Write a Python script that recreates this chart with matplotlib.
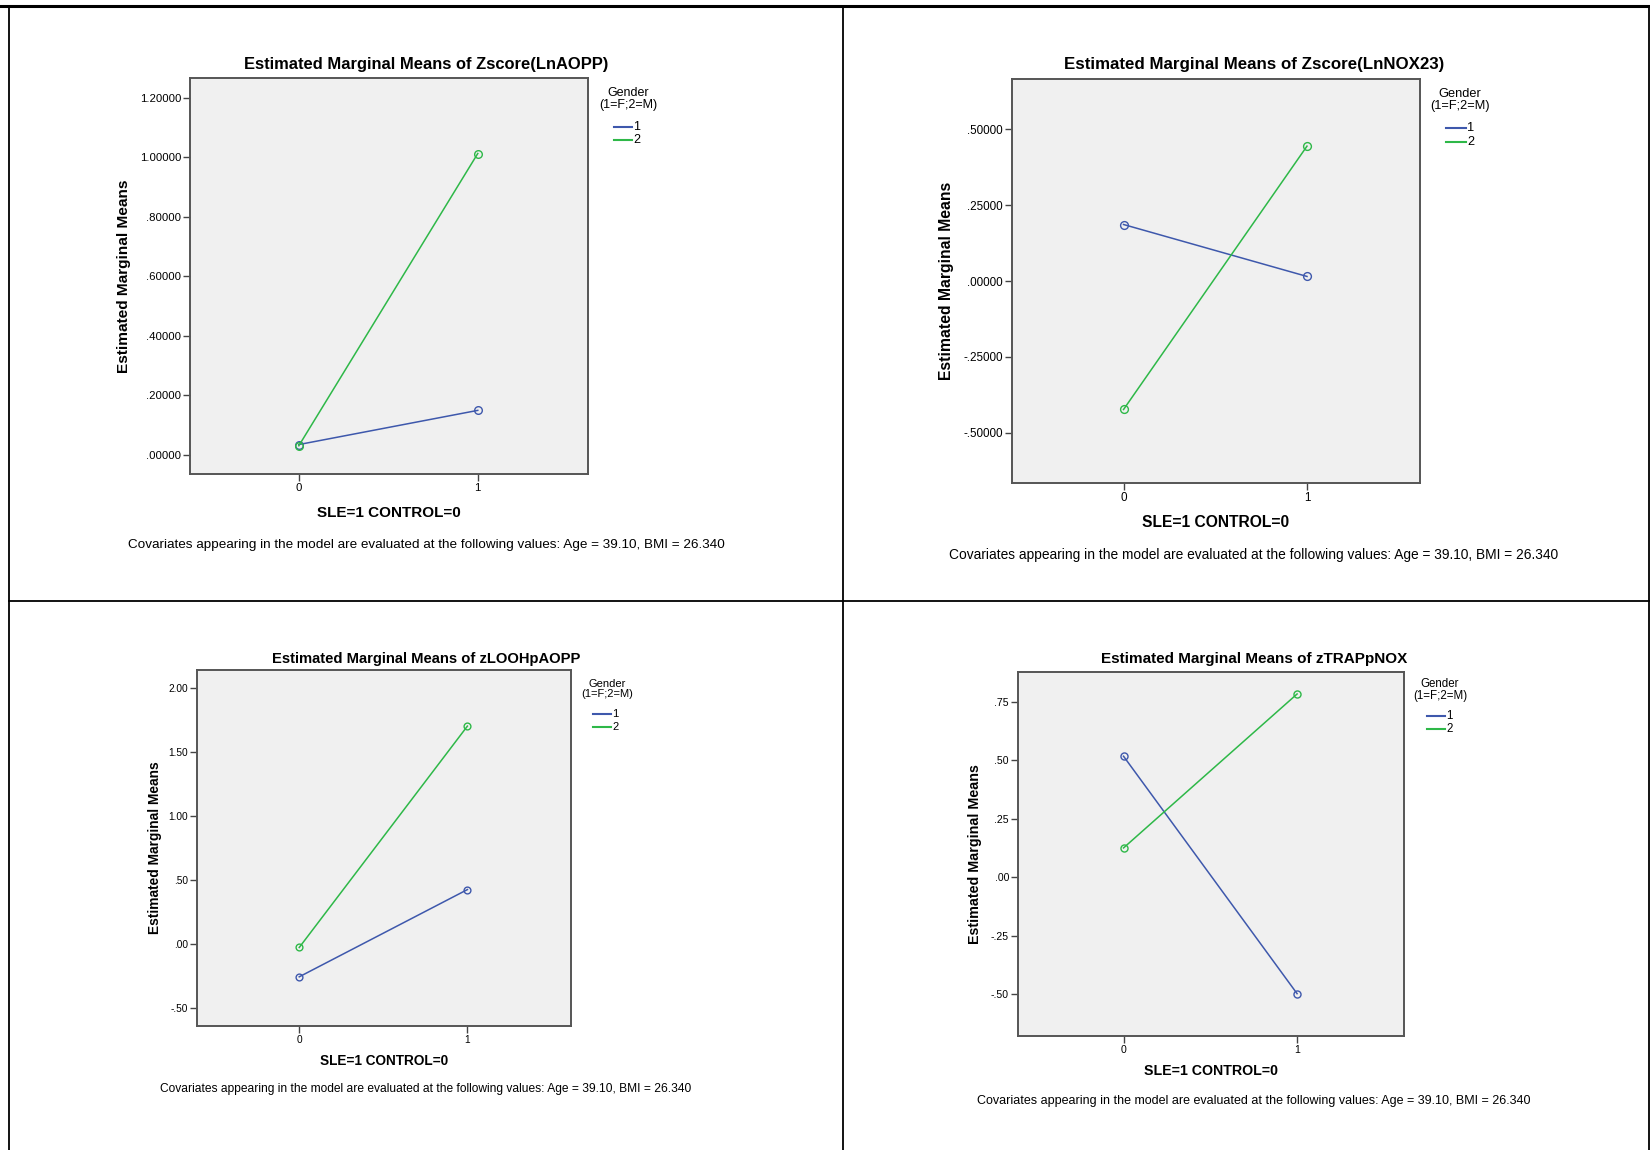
import matplotlib
matplotlib.use('Agg')
import matplotlib.pyplot as plt
from matplotlib.lines import Line2D

plt.rcParams['font.family'] = ['Liberation Sans', 'DejaVu Sans']

# ---- data
sle_groups = [0, 1]
sle_labels = ['0', '1']
gender_labels = ['1', '2']

aopp_f = [0.034, 0.149]
aopp_m = [0.030, 1.013]
nox_f = [0.186, 0.015]
nox_m = [-0.423, 0.444]
looh_f = [-0.257, 0.424]
looh_m = [-0.028, 1.700]
trap_f = [0.518, -0.497]
trap_m = [0.126, 0.784]

aopp_ticks = [0.0, 0.2, 0.4, 0.6, 0.8, 1.0, 1.2]
aopp_ticklabels = ['.00000', '.20000', '.40000', '.60000', '.80000', '1.00000', '1.20000']
nox_ticks = [-0.5, -0.25, 0.0, 0.25, 0.5]
nox_ticklabels = ['-.50000', '-.25000', '.00000', '.25000', '.50000']
looh_ticks = [-0.5, 0.0, 0.5, 1.0, 1.5, 2.0]
looh_ticklabels = ['-.50', '.00', '.50', '1.00', '1.50', '2.00']
trap_ticks = [-0.5, -0.25, 0.0, 0.25, 0.5, 0.75]
trap_ticklabels = ['-.50', '-.25', '.00', '.25', '.50', '.75']

titles = ['Estimated Marginal Means of Zscore(LnAOPP)',
          'Estimated Marginal Means of Zscore(LnNOX23)',
          'Estimated Marginal Means of zLOOHpAOPP',
          'Estimated Marginal Means of zTRAPpNOX']
ylabel = 'Estimated Marginal Means'
xlabel = 'SLE=1 CONTROL=0'
legend_title = 'Gender\n(1=F;2=M)'
covariates = 'Covariates appearing in the model are evaluated at the following values: Age = 39.10, BMI = 26.340'

blue = '#3e58ac'
green = '#2eb848'

W, H = 1650, 1150
fig = plt.figure(figsize=(W / 100, H / 100), dpi=100)


def fx(x):
    return x / W


def fy(y):
    return 1 - y / H


def panel(box, ylim, f_vals, m_vals, ticks, ticklabels, title, s,
          title_xy, ylab_x, xlab_y, cov_y, leg):
    l, t, r, b = box
    ax = fig.add_axes([fx(l), fy(b), (r - l) / W, (b - t) / H])
    ax.set_facecolor('#f0f0f0')
    ax.plot(sle_groups, f_vals, color=blue, lw=1.1, marker='o', ms=5.5 * s,
            mfc='none', mew=1.0)
    ax.plot(sle_groups, m_vals, color=green, lw=1.1, marker='o', ms=5.5 * s,
            mfc='none', mew=1.0)
    ax.set_xlim(-0.608, 1.616)
    ax.set_ylim(*ylim)
    ax.set_xticks(sle_groups)
    ax.set_xticklabels(sle_labels, fontsize=8.2 * s)
    ax.set_yticks(ticks)
    ax.set_yticklabels(ticklabels, fontsize=8.2 * s)
    ax.tick_params(length=5, width=1.0, color='#444444', pad=1.5)
    for sp in ax.spines.values():
        sp.set_color('#555555')
        sp.set_linewidth(1.4)
    cx = (l + r) / 2
    fig.text(fx(title_xy[0]), fy(title_xy[1]), title, ha='center', va='center',
             fontsize=11.9 * s, fontweight='bold')
    fig.text(fx(ylab_x), fy((t + b) / 2), ylabel, ha='center', va='center',
             rotation=90, fontsize=11.1 * s, fontweight='bold')
    fig.text(fx(cx), fy(xlab_y), xlabel, ha='center', va='center',
             fontsize=11 * s, fontweight='bold')
    fig.text(fx(title_xy[0]), fy(cov_y), covariates, ha='center', va='center',
             fontsize=9.7 * s)
    # legend
    gx, gy, lx0, lx1, ly1, ly2 = leg
    fig.text(fx(gx), fy(gy), legend_title, ha='center', va='center',
             fontsize=9 * s, linespacing=0.95)
    for yy, c, lab in zip([ly1, ly2], [blue, green], gender_labels):
        fig.add_artist(Line2D([fx(lx0), fx(lx1)], [fy(yy), fy(yy)], color=c, lw=1.5))
        fig.text(fx(lx1 + 1), fy(yy), lab, ha='left', va='center', fontsize=9 * s)
    return ax


panel((190, 78, 588, 474), (-0.065, 1.267), aopp_f, aopp_m, aopp_ticks, aopp_ticklabels,
      titles[0], 1.0, (426, 65), 124, 513, 545, (628, 99, 614, 632, 127, 140))
panel((1012, 79, 1420, 483), (-0.665, 0.665), nox_f, nox_m, nox_ticks, nox_ticklabels,
      titles[1], 1.02, (1254, 65), 947, 523, 555, (1460, 100, 1446, 1466, 128, 142))
panel((197, 670, 571, 1026), (-0.641, 2.138), looh_f, looh_m, looh_ticks, looh_ticklabels,
      titles[2], 0.89, (426, 659), 155, 1061, 1089, (607, 689, 593, 611, 714, 727))
panel((1018, 672, 1404, 1036), (-0.678, 0.878), trap_f, trap_m, trap_ticks, trap_ticklabels,
      titles[3], 0.925, (1254, 659), 975, 1071, 1101, (1440, 690, 1427, 1445, 716, 729))

# table grid around the four charts
grid = dict(color='black', lw=1.3)
fig.add_artist(Line2D([fx(0), fx(W)], [fy(6), fy(6)], color='black', lw=2.2))
fig.add_artist(Line2D([fx(9), fx(9)], [fy(6), fy(H)], **grid))
fig.add_artist(Line2D([fx(843), fx(843)], [fy(6), fy(H)], **grid))
fig.add_artist(Line2D([fx(1649), fx(1649)], [fy(6), fy(H)], **grid))
fig.add_artist(Line2D([fx(9), fx(W)], [fy(601), fy(601)], **grid))

fig.savefig('out.png', dpi=100)
